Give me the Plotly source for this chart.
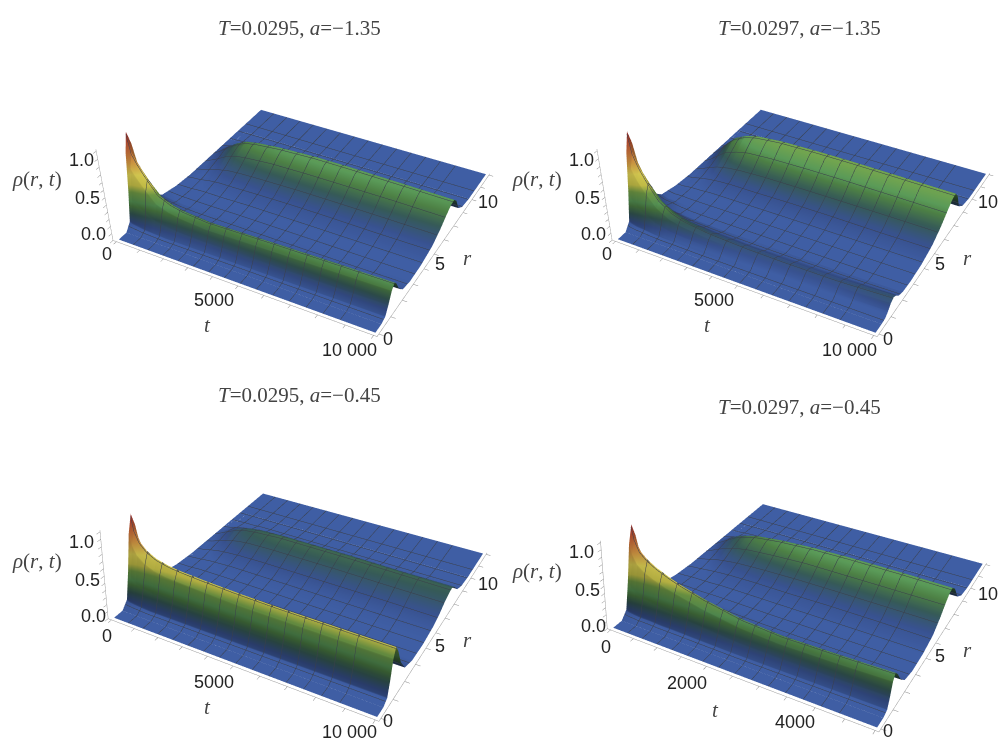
import plotly.graph_objects as go
t_frac=[0,.01,.03,.06,.1,.15,.2,.3,.45,.6,.8,1]
r_vals=[0,.5,.8,1.0,1.2,1.4,1.6,1.9,2.3,3,4,5,5.7,6.3,6.7,7,7.3,7.7,8.2,9,11]
rho_a=[[0,0,.10,.48,.96,1.20,1.02,.54,.22,.07,.02,0,0,0,0,0,0,0,0,0,0],
[0,0,.08,.38,.76,.95,.81,.43,.17,.06,.02,.01,.01,.02,.02,.02,.02,.01,0,0,0],
[0,0,.07,.33,.66,.82,.70,.37,.15,.05,.02,.02,.03,.05,.06,.06,.05,.02,0,0,0],
[0,0,.05,.26,.53,.66,.56,.30,.12,.04,.02,.03,.07,.10,.13,.13,.10,.04,.01,0,0],
[0,0,.04,.19,.38,.48,.41,.22,.09,.03,.03,.06,.11,.18,.21,.22,.18,.07,.02,0,0],
[0,0,.03,.16,.32,.40,.34,.18,.07,.03,.03,.08,.15,.24,.29,.30,.24,.09,.02,0,0],
[0,0,.03,.14,.29,.36,.31,.16,.06,.03,.03,.08,.17,.26,.32,.33,.26,.10,.03,0,0],
[0,0,.03,.13,.26,.33,.28,.15,.06,.03,.04,.09,.18,.29,.35,.36,.29,.11,.03,0,0],
[0,0,.03,.14,.27,.34,.29,.15,.06,.03,.04,.10,.19,.30,.37,.38,.30,.11,.03,0,0],
[0,0,.03,.14,.28,.35,.30,.16,.06,.03,.04,.10,.19,.30,.37,.38,.30,.11,.03,0,0],
[0,0,.03,.14,.29,.36,.31,.16,.06,.03,.04,.09,.19,.30,.36,.37,.30,.11,.03,0,0],
[0,0,.03,.15,.30,.37,.31,.17,.07,.03,.04,.09,.18,.29,.35,.36,.29,.11,.03,0,0]]
rho_b=[[0,0,.10,.48,.96,1.20,1.02,.54,.22,.07,.02,0,0,0,0,0,0,0,0,0,0],
[0,0,.08,.38,.76,.95,.81,.43,.17,.06,.02,.01,.01,.02,.02,.02,.02,.01,0,0,0],
[0,0,.06,.31,.62,.78,.66,.35,.14,.04,.02,.02,.04,.06,.08,.08,.06,.02,.01,0,0],
[0,0,.05,.24,.48,.60,.51,.27,.11,.04,.03,.05,.09,.14,.17,.18,.14,.05,.01,0,0],
[0,0,.03,.16,.32,.40,.34,.18,.07,.03,.03,.08,.15,.24,.29,.30,.24,.09,.02,0,0],
[0,0,.02,.11,.22,.28,.24,.13,.05,.02,.04,.10,.19,.30,.37,.38,.30,.11,.03,0,0],
[0,0,.02,.09,.18,.22,.19,.10,.04,.02,.04,.11,.21,.34,.41,.42,.34,.13,.03,0,0],
[0,0,.01,.07,.14,.17,.14,.08,.03,.02,.04,.11,.23,.36,.44,.45,.36,.14,.04,0,0],
[0,0,.01,.06,.11,.14,.12,.06,.03,.02,.04,.12,.23,.37,.45,.46,.37,.14,.04,0,0],
[0,0,.01,.05,.10,.13,.11,.06,.02,.02,.04,.12,.23,.37,.45,.46,.37,.14,.04,0,0],
[0,0,.01,.05,.10,.13,.11,.06,.02,.02,.04,.11,.23,.36,.44,.45,.36,.14,.04,0,0],
[0,0,.01,.06,.13,.16,.14,.07,.03,.02,.04,.11,.22,.35,.43,.44,.35,.13,.04,0,0]]
rho_c=[[0,0,.10,.48,.96,1.20,1.02,.54,.22,.07,.02,0,0,0,0,0,0,0,0,0,0],
[0,0,.08,.40,.80,1.0,.85,.45,.18,.06,.02,0,.01,.01,.01,.01,.01,0,0,0,0],
[0,0,.07,.34,.68,.85,.72,.38,.15,.05,.02,.01,.02,.03,.04,.04,.03,.01,0,0,0],
[0,0,.06,.30,.60,.75,.64,.34,.14,.05,.02,.02,.05,.07,.09,.09,.07,.03,.01,0,0],
[0,0,.05,.27,.54,.68,.58,.31,.12,.04,.03,.04,.08,.12,.15,.15,.12,.05,.01,0,0],
[0,0,.05,.26,.51,.64,.54,.29,.12,.04,.03,.05,.10,.16,.19,.20,.16,.06,.02,0,0],
[0,0,.05,.25,.50,.62,.53,.28,.11,.04,.03,.06,.11,.18,.21,.22,.18,.07,.02,0,0],
[0,0,.05,.24,.48,.60,.51,.27,.11,.04,.03,.06,.12,.19,.23,.24,.19,.07,.02,0,0],
[0,0,.05,.23,.46,.58,.49,.26,.10,.04,.03,.06,.12,.19,.23,.24,.19,.07,.02,0,0],
[0,0,.05,.23,.46,.57,.48,.26,.10,.04,.03,.06,.12,.19,.23,.24,.19,.07,.02,0,0],
[0,0,.05,.23,.46,.57,.48,.26,.10,.04,.03,.06,.12,.18,.22,.23,.18,.07,.02,0,0],
[0,0,.05,.23,.46,.57,.48,.26,.10,.04,.03,.06,.11,.18,.21,.22,.18,.07,.02,0,0]]
rho_d=[[0,0,.10,.48,.96,1.20,1.02,.54,.22,.07,.02,0,0,0,0,0,0,0,0,0,0],
[0,0,.08,.41,.82,1.02,.87,.46,.18,.06,.02,.01,.01,.02,.02,.02,.02,.01,0,0,0],
[0,0,.07,.35,.70,.87,.74,.39,.16,.05,.02,.02,.03,.05,.06,.06,.05,.02,0,0,0],
[0,0,.06,.31,.62,.78,.66,.35,.14,.05,.03,.03,.06,.10,.12,.12,.10,.04,.01,0,0],
[0,0,.06,.28,.56,.70,.60,.32,.13,.05,.03,.05,.10,.16,.19,.20,.16,.06,.02,0,0],
[0,0,.05,.25,.50,.63,.54,.28,.11,.04,.03,.07,.13,.21,.25,.26,.21,.08,.02,0,0],
[0,0,.05,.23,.46,.57,.48,.26,.10,.04,.04,.08,.15,.24,.29,.30,.24,.09,.02,0,0],
[0,0,.04,.19,.38,.48,.41,.22,.09,.04,.04,.09,.17,.27,.33,.34,.27,.10,.03,0,0],
[0,0,.03,.15,.30,.38,.32,.17,.07,.03,.04,.09,.19,.30,.36,.37,.30,.11,.03,0,0],
[0,0,.03,.14,.27,.34,.29,.15,.06,.03,.04,.10,.19,.30,.37,.38,.30,.11,.03,0,0],
[0,0,.03,.14,.28,.35,.30,.16,.06,.03,.04,.10,.19,.30,.37,.38,.30,.11,.03,0,0],
[0,0,.03,.15,.30,.37,.31,.17,.07,.03,.04,.09,.19,.30,.36,.37,.30,.11,.03,0,0]]
titles=['<i>T</i>=0.0295, <i>a</i>=−1.35','<i>T</i>=0.0297, <i>a</i>=−1.35','<i>T</i>=0.0295, <i>a</i>=−0.45','<i>T</i>=0.0297, <i>a</i>=−0.45']
title_xy=[(299,28),(799,28),(299,395),(799,407)]
tmaxs=[10000,10000,10000,5000]
tlabels=[[('0',107,254),('5000',214,300),('10 000',349,350)]]*3+[[('0',106,255),('2000',187,291),('4000',295,330)]]
rho=[rho_a,rho_b,rho_c,rho_d]
offsets=[(0,0),(500,0),(0,381.5),(500,392)]
colors=[[0,'#3f5ea4'],[.03,'#3f5ea4'],[.083,'#385290'],[.167,'#365a58'],[.25,'#4d8045'],[.3,'#5a9a58'],[.4,'#7aa84c'],[.475,'#dcd650'],[.58,'#f4e65c'],[.71,'#f0a84c'],[.83,'#e87a42'],[1,'#d23a38']]
cams=[(1.164,-2.220,1.636,.200,-.438,-.481,.941,.940,.338,0,600),
      (.986,-1.969,1.407,.165,-.479,-.339,.819,.834,.293,560,440),
      (1.414,-2.657,1.879,.017,-.102,.748,1.101,1.109,.379,0,600),
      (1.389,-2.703,1.843,-.032,-.171,.794,1.093,1.129,.372,560,440)]
fig=go.Figure();anns=[]
def txt(s,x,y,fam='Liberation Sans',size=18,col='#222'):
    anns.append(dict(xref='paper',yref='paper',x=x/1000,y=1-y/744,text=s,showarrow=False,xanchor='center',yanchor='middle',font=dict(family=fam,size=size,color=col)))
for i in range(4):
    p=cams[i];ox,oy=offsets[i];x0,w=p[9],p[10]
    name='scene' if i==0 else f'scene{i+1}'
    tm=tmaxs[i]
    t=[f*tm for f in t_frac]
    z=[[row[j] for row in rho[i]] for j in range(len(r_vals))]
    fig.add_surface(x=t,y=r_vals,z=z,cmin=0,cmax=1.2,colorscale=colors,showscale=False,scene=name,
        lighting=dict(ambient=.5,diffuse=.55,specular=0,roughness=1,fresnel=0),lightposition=dict(x=0,y=0,z=100000),
        contours=dict(x=dict(show=True,start=tm/16,end=tm*15/16,size=tm/16,color='#3a3f4a',width=1),
                      y=dict(show=True,start=11/16,end=11*15/16,size=11/16,color='#3a3f4a',width=1),z=dict(show=False)),hoverinfo='skip')
    ax=dict(showbackground=False,showgrid=False,zeroline=False,showline=True,linecolor='#999',linewidth=1,ticks='outside',ticklen=4,tickcolor='#888',title='',showticklabels=False,showspikes=False)
    step=tm//10
    fig.update_layout({name:dict(domain=dict(x=[x0/1000,(x0+w)/1000],y=[0,1]),
        camera=dict(eye=dict(x=p[0],y=p[1],z=p[2]),center=dict(x=p[3],y=p[4],z=p[5]),up=dict(x=0,y=0,z=1)),
        aspectmode='manual',aspectratio=dict(x=p[6],y=p[7],z=p[8]),
        xaxis=dict(ax,range=[-tm*.015,tm*1.012],tickvals=list(range(0,tm+1,step))),yaxis=dict(ax,range=[-.15,11.12],tickvals=list(range(12))),zaxis=dict(ax,range=[0,1.22],tickvals=[k/10 for k in range(13)]))})
    tx,ty=title_xy[i];txt(titles[i],tx,ty,'Liberation Serif',21,'#444')
    for s,x,y in [('1.0',81,160),('0.5',87,198),('0.0',93,234),('0',388,339),('5',440,264),('10',488,202)]+tlabels[i]:
        txt(s,x+ox,y+oy)
    txt('<i>ρ</i>(<i>r</i>, <i>t</i>)',37+ox,179+oy,'Liberation Serif',21,'#444')
    txt('<i>t</i>',(207 if i<3 else 215)+ox,(325 if i<3 else 318)+oy,'Liberation Serif',21,'#444')
    txt('<i>r</i>',467+ox,258+oy,'Liberation Serif',21,'#444')
fig.update_layout(width=1000,height=744,margin=dict(l=0,r=0,t=0,b=0),annotations=anns,paper_bgcolor='white')
fig.write_html('out.html',post_script="document.body.style.margin='0';",config={'displayModeBar':False})
